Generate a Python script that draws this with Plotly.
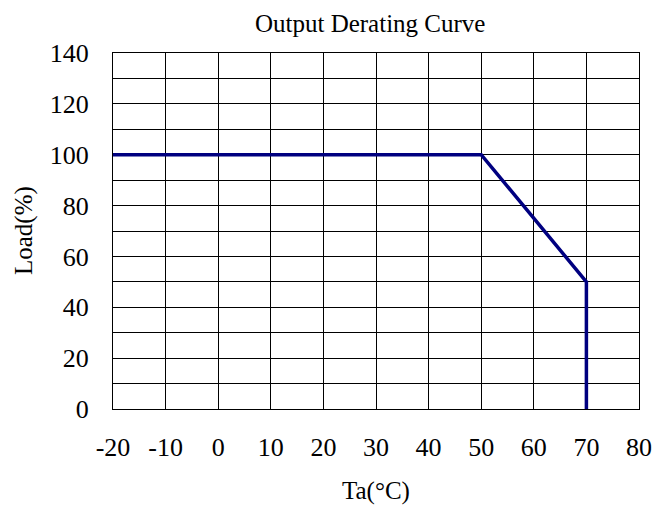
import plotly.graph_objects as go

ta = [-20, 50, 70, 70]
load = [100, 100, 50, 0]
x_ticks = [-20, -10, 0, 10, 20, 30, 40, 50, 60, 70, 80]
y_ticks = list(range(0, 150, 10))
y_labels = [str(v) if v % 20 == 0 else "" for v in y_ticks]

font = "Liberation Serif, Times New Roman, serif"

fig = go.Figure(go.Scatter(x=ta, y=load, mode="lines",
                           line=dict(color="#000080", width=3.5), showlegend=False))

fig.update_layout(
    width=669, height=509,
    margin=dict(l=105, r=38, t=45, b=108),
    paper_bgcolor="white", plot_bgcolor="white",
    font=dict(family=font, color="black"),
    title=dict(text="Output Derating Curve", x=0.489, xanchor="center", xref="paper",
               y=1 - 15 / 509, yanchor="middle", font=dict(size=25, family=font)),
    annotations=[
        dict(text="Ta(°C)", xref="paper", yref="paper", x=0.5, y=0,
             xanchor="center", yanchor="middle", yshift=-82, showarrow=False,
             font=dict(size=25, family=font)),
        dict(text="Load(%)", xref="paper", yref="paper", x=0, y=0.5,
             xanchor="center", yanchor="middle", xshift=-89, textangle=-90,
             showarrow=False, font=dict(size=25, family=font)),
    ],
)
fig.update_xaxes(range=[-20, 80], tickvals=x_ticks, ticktext=[str(v) for v in x_ticks],
                 showgrid=True, gridcolor="black", gridwidth=1,
                 showline=True, linecolor="black", linewidth=1, mirror=True,
                 zeroline=False, ticks="", tickfont=dict(size=26, family=font),
                 ticklabelstandoff=15)
fig.update_yaxes(range=[0, 140], tickvals=y_ticks, ticktext=y_labels,
                 showgrid=True, gridcolor="black", gridwidth=1,
                 showline=True, linecolor="black", linewidth=1, mirror=True,
                 zeroline=False, ticks="", tickfont=dict(size=26, family=font),
                 ticklabelstandoff=18)

fig.write_html("out.html")
